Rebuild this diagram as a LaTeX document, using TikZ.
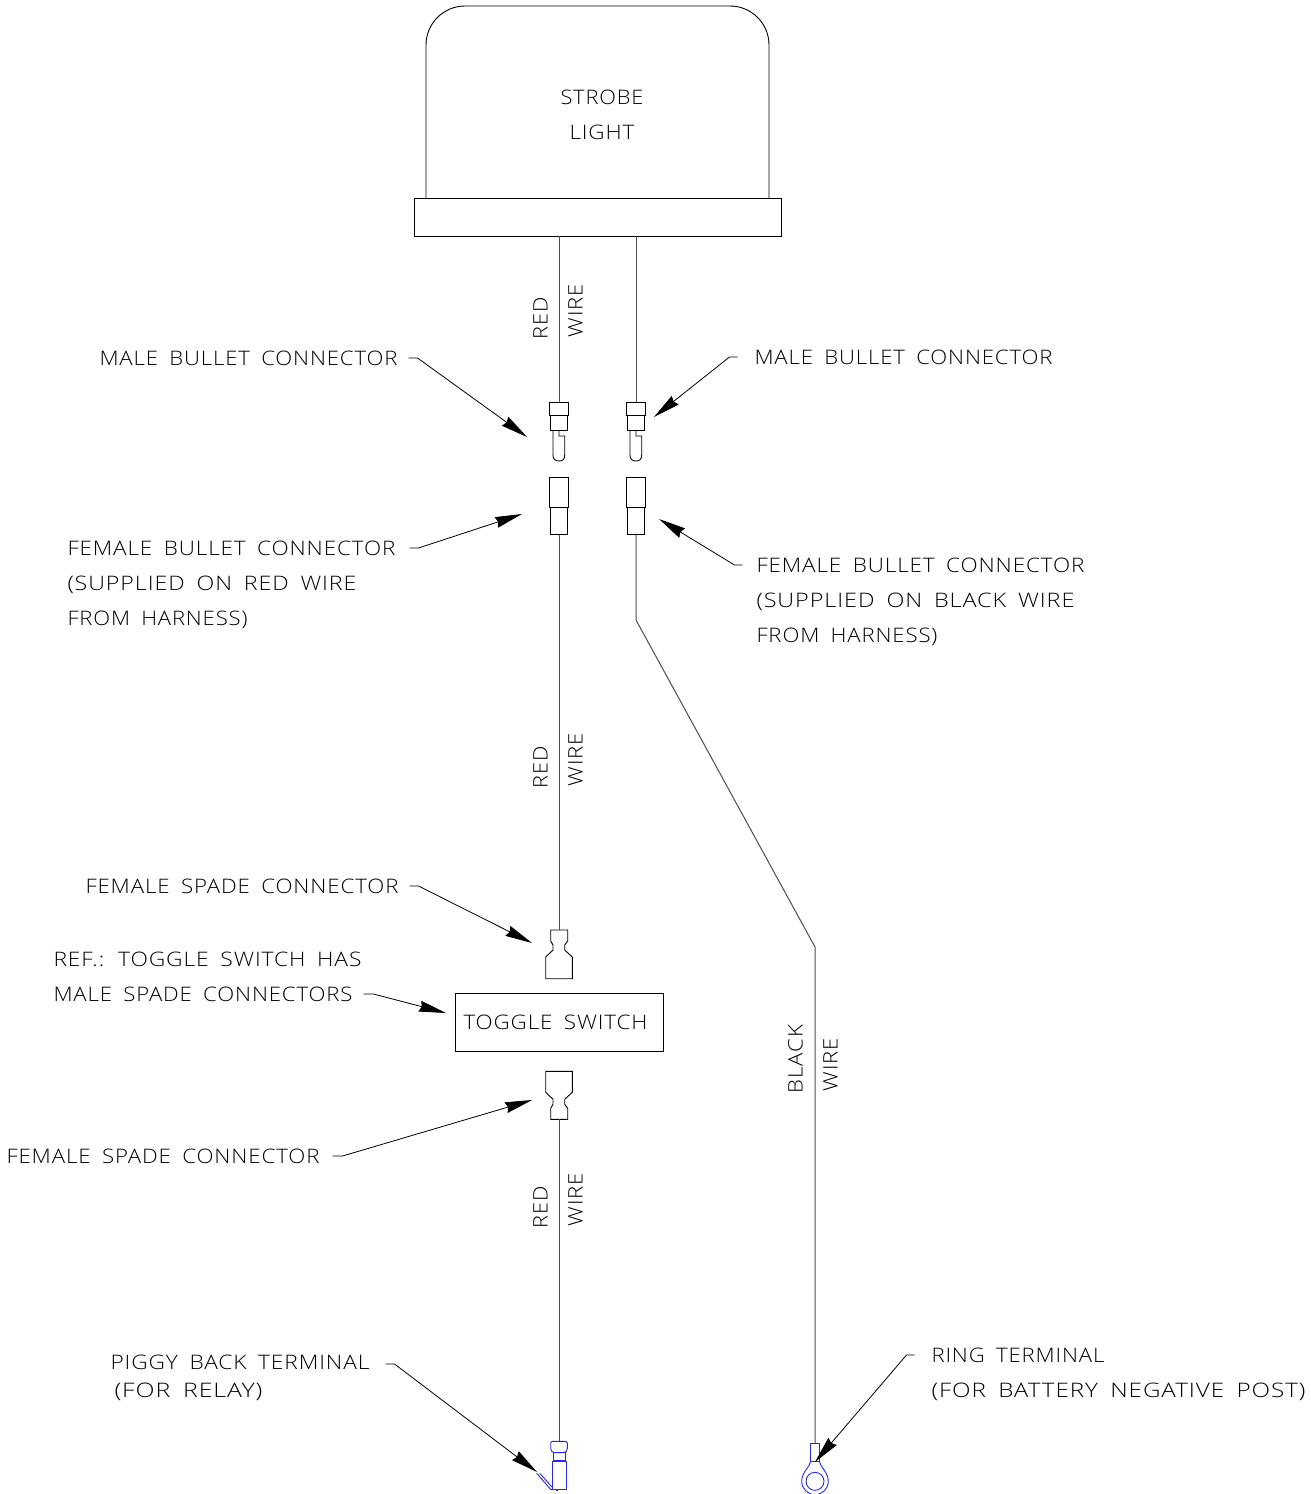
\documentclass[tikz,border=0pt]{standalone}
\usepackage{fontspec}
\usepackage{graphicx}
\usetikzlibrary{arrows.meta}
\setmainfont[WordSpace=1.7,LetterSpace=4]{Open Sans Light}
\definecolor{termblue}{RGB}{40,40,235}
\newcommand{\wlabel}[6][0]{\node[cadtext,rotate=#1] (#2) at (#3,#4) {\resizebox{#5pt}{\height}{#6}};}
\tikzset{
  cadtext/.style={anchor=base west,inner sep=0pt,outer sep=0pt,xshift=-0.5pt,yshift=1pt,font=\fontsize{20}{20}\selectfont,text=black},
  cadline/.style={draw=black,line width=0.9pt,line join=miter},
  wireline/.style={draw=black!70,line width=1pt},
  blueline/.style={draw=termblue,line width=0.9pt},
  leader/.style={draw=black,line width=0.8pt,-{Stealth[length=27pt,width=11pt,inset=2pt]}},
  boxnode/.style={draw=black,line width=0.9pt,inner sep=0pt,outer sep=0pt,rectangle},
  malebullet/.pic={
    \draw[cadline] (-9.3,402) rectangle (9.3,415.7);
    \draw[cadline] (-8.3,415.7) rectangle (8.3,430);
    \draw[cadline] (-6,430) -- (-6,455) .. controls (-6,459) and (-4,461) .. (0,461)
      .. controls (4,461) and (5.7,459) .. (5.7,455) -- (5.7,436) -- (0,436) -- (0,430);
  },
  femalebullet/.pic={
    \draw[cadline] (-9.3,477) rectangle (9.3,507.3);
    \draw[cadline] (-8.3,507.3) rectangle (8.3,534.7);
  }
}
\begin{document}
\begin{tikzpicture}[x=1pt,y=-1pt]
\useasboundingbox (0,0) rectangle (1310,1494);
% strobe body
\draw[cadline] (426,198) -- (426,45) .. controls (426,23.5) and (443.5,6) .. (465,6) -- (730,6)
  .. controls (751.5,6) and (769,23.5) .. (769,45) -- (769,198);
\node[boxnode,minimum width=367pt,minimum height=38pt] (base) at (597.5,217) {};
\wlabel{strobe}{561}{105}{83}{STROBE}
\wlabel{light}{570}{140}{65}{LIGHT}
% toggle
\node[boxnode,minimum width=208pt,minimum height=58pt] (toggle) at (559,1022) {};
\wlabel{togtext}{464}{1030}{184}{TOGGLE SWITCH}
% connectors
\pic (mbl) at (559,0) {malebullet};
\pic (mbr) at (636,0) {malebullet};
\pic (fbl) at (559,0) {femalebullet};
\pic (fbr) at (636,0) {femalebullet};
% spades
\draw[cadline] (550.7,930) -- (567.7,930) -- (567.7,941) -- (564.7,945) -- (564.7,950) -- (572.3,957) -- (572.3,978.7)
  -- (545.7,978.7) -- (545.7,957) -- (553,950) -- (553,945) -- (550.7,941) -- cycle;
\draw[cadline] (550.7,1119.3) -- (567.7,1119.3) -- (567.7,1108.3) -- (564.7,1104.3) -- (564.7,1099.3) -- (572.3,1092.3) -- (572.3,1071.3)
  -- (545.7,1071.3) -- (545.7,1092.3) -- (553,1099.3) -- (553,1104.3) -- (550.7,1108.3) -- cycle;
% piggy back terminal
\draw[blueline,rounded corners=1.5pt] (550.7,1441.3) -- (567.3,1441.3) -- (567.3,1450) -- (565,1452.7) -- (553,1452.7) -- (550.7,1450) -- cycle;
\draw[blueline] (553,1452.7) rectangle (565,1460.7);
\draw[blueline] (552,1461) rectangle (566,1489.5);
\draw[blueline] (536.7,1473.3) -- (550.7,1489.5) -- (552,1489.5) (539.7,1473.3) -- (552,1487);
\draw[blueline] (556,1490.5) -- (558,1490.5);
% ring terminal
\draw[blueline] (810.7,1461.3) -- (810.7,1443.3) -- (819.3,1443.3) -- (819.3,1461.3) -- cycle;
\draw[blueline] (810.7,1461.3) .. controls (810,1467) and (801.7,1472) .. (801.7,1481.3)
  .. controls (801.7,1488.6) and (807.7,1494.6) .. (815,1494.6)
  .. controls (822.3,1494.6) and (828.3,1488.6) .. (828.3,1481.3)
  .. controls (828.3,1472) and (820,1467) .. (819.3,1461.3);
\draw[blueline] (815,1481.3) circle[radius=9pt];
% named wire ends
\coordinate (w1a) at (559,236); \coordinate (w1b) at (559,402);
\coordinate (w2a) at (636,236); \coordinate (w2b) at (636,402);
\coordinate (w3a) at (559,534.7); \coordinate (w3b) at (559,930);
\coordinate (w4a) at (636,534.7); \coordinate (w4b) at (636,620); \coordinate (w4c) at (815,947); \coordinate (w4d) at (815,1443.3);
\coordinate (w5a) at (559,1119.3); \coordinate (w5b) at (559,1441.3);
\draw[wireline] (w1a) -- (w1b);
\draw[wireline] (w2a) -- (w2b);
\draw[wireline] (w3a) -- (w3b);
\draw[wireline] (w4a) -- (w4b) -- (w4c) -- (w4d);
\draw[wireline] (w5a) -- (w5b);
% wire labels
\wlabel[90]{r1}{548}{340}{42}{RED}
\wlabel[90]{w1}{583}{338}{53}{WIRE}
\wlabel[90]{r2}{548}{789}{42}{RED}
\wlabel[90]{w2}{583}{787}{53}{WIRE}
\wlabel[90]{r3}{548}{1229}{42}{RED}
\wlabel[90]{w3}{583}{1227}{53}{WIRE}
\wlabel[90]{b4}{803}{1094}{68}{BLACK}
\wlabel[90]{w4}{838}{1092}{53}{WIRE}
% callouts
\wlabel{a1}{100}{366}{298}{MALE BULLET CONNECTOR}
\wlabel{a2}{755}{365}{298}{MALE BULLET CONNECTOR}
\wlabel{b1}{68}{556}{328}{FEMALE BULLET CONNECTOR}
\wlabel{b2}{68}{591}{289}{(SUPPLIED ON RED WIRE}
\wlabel{b3}{68}{626}{180}{FROM HARNESS)}
\wlabel{c1}{757}{573}{328}{FEMALE BULLET CONNECTOR}
\wlabel{c2}{757}{608}{318}{(SUPPLIED ON BLACK WIRE}
\wlabel{c3}{757}{643}{181}{FROM HARNESS)}
\wlabel{d1}{86}{894}{313}{FEMALE SPADE CONNECTOR}
\wlabel{e1}{54}{967}{308}{REF.: TOGGLE SWITCH HAS}
\wlabel{e2}{54}{1002}{299}{MALE SPADE CONNECTORS}
\wlabel{f1}{7}{1164}{313}{FEMALE SPADE CONNECTOR}
\wlabel{g1}{111}{1370}{259}{PIGGY BACK TERMINAL}
\wlabel{g2}{115}{1398}{148}{(FOR RELAY)}
\wlabel{h1}{932}{1363}{173}{RING TERMINAL}
\wlabel{h2}{932}{1398}{374}{(FOR BATTERY NEGATIVE POST)}
% leaders
\coordinate (la) at (527,437); \coordinate (lb) at (654,417); \coordinate (lc) at (522,514); \coordinate (ld) at (659,519);
\coordinate (le) at (532,943); \coordinate (lf) at (446,1013); \coordinate (lg) at (532,1100); \coordinate (lh) at (537,1472); \coordinate (li) at (815,1462);
\draw[leader] ([xshift=11pt]a1.east |- 0,358) -- ++(9,0) -- (la);
\draw[leader] ([xshift=-17pt]a2.west |- 0,357) -- ++(-8,0) -- (lb);
\draw[leader] ([xshift=14pt]b1.east |- 0,548) -- ++(9,0) -- (lc);
\draw[leader] ([xshift=-14pt]c1.west |- 0,565) -- ++(-8,0) -- (ld);
\draw[leader] ([xshift=11pt]d1.east |- 0,886) -- ++(9,0) -- (le);
\draw[leader] ([xshift=11pt]e2.east |- 0,994) -- ++(10,0) -- (lf);
\draw[leader] ([xshift=13pt]f1.east |- 0,1156) -- ++(10,0) -- (lg);
\draw[leader] ([xshift=16pt]g1.east |- 0,1364) -- ++(9,0) -- (lh);
\draw[leader] ([xshift=-17pt]h1.west |- 0,1355) -- ++(-8,0) -- (li);
\end{tikzpicture}
\end{document}
